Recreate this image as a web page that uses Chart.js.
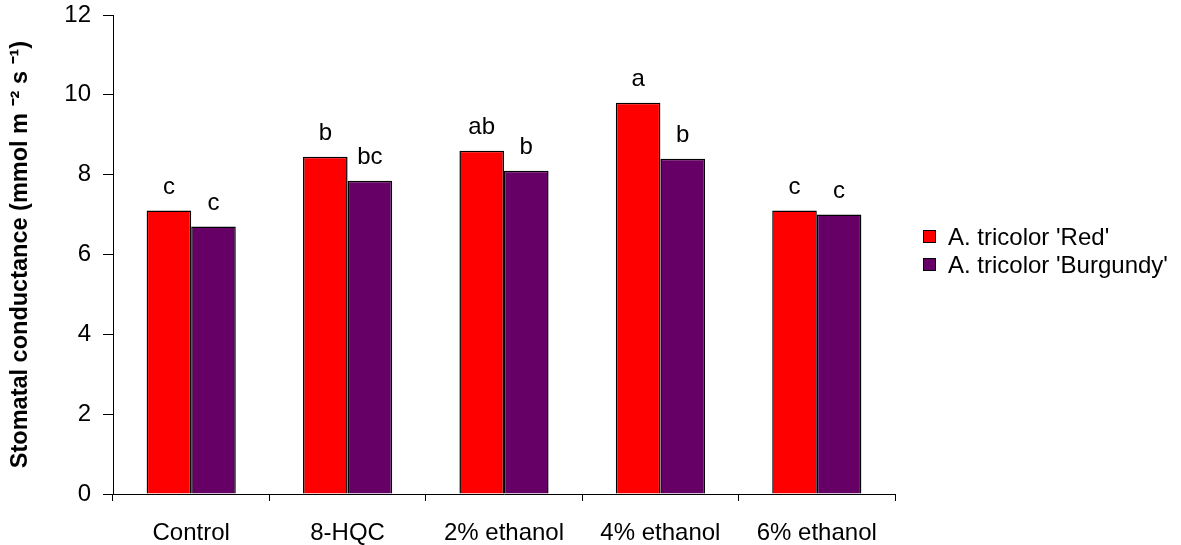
<!DOCTYPE html>
<html>
<head>
<meta charset="utf-8">
<script src="https://cdn.jsdelivr.net/npm/chart.js@4/dist/chart.umd.min.js"></script>
<style>
  html, body { margin: 0; padding: 0; background: #fff; }
  #wrap { width: 1181px; height: 545px; }
</style>
</head>
<body>
<div id="wrap"><canvas id="chart" width="1181" height="545"></canvas></div>
<script>
const categories = ['Control', '8-HQC', '2% ethanol', '4% ethanol', '6% ethanol'];
const seriesNames = ["A. tricolor 'Red'", "A. tricolor 'Burgundy'"];
const redValues = [7.1, 8.45, 8.6, 9.8, 7.1];
const burgundyValues = [6.7, 7.85, 8.1, 8.4, 7.0];
const redLetters = ['c', 'b', 'ab', 'a', 'c'];
const burgundyLetters = ['c', 'bc', 'b', 'b', 'c'];
const yTicks = [0, 2, 4, 6, 8, 10, 12];

const FONT = '"Liberation Sans", Arial, sans-serif';
const colors = { red: '#ff0000', burgundy: '#660066' };

// letters above each bar
const letterPlugin = {
    id: 'letters',
    afterDatasetsDraw(chart) {
        const ctx = chart.ctx;
        const sets = [redLetters, burgundyLetters];
        ctx.save();
        ctx.font = '24px ' + FONT;
        ctx.fillStyle = '#000';
        ctx.textAlign = 'center';
        ctx.textBaseline = 'alphabetic';
        sets.forEach((letters, di) => {
            chart.getDatasetMeta(di).data.forEach((bar, i) => {
                ctx.fillText(letters[i], bar.x, bar.y - 17);
            });
        });
        ctx.restore();
    }
};

// legend on the right, excel style
const legendPlugin = {
    id: 'sideLegend',
    afterDraw(chart) {
        const ctx = chart.ctx;
        const x = chart.chartArea.right + 28;
        const midY = (chart.chartArea.top + chart.chartArea.bottom) / 2;
        ctx.save();
        ctx.font = '24px ' + FONT;
        ctx.textBaseline = 'middle';
        chart.data.datasets.forEach((ds, i) => {
            const y = Math.round(midY - 18 + i * 28);
            ctx.fillStyle = ds.backgroundColor;
            ctx.fillRect(x, y - 7, 13, 13);
            ctx.strokeStyle = '#000';
            ctx.lineWidth = 1;
            ctx.strokeRect(x + 0.5, y - 6.5, 12, 12);
            ctx.fillStyle = '#000';
            ctx.fillText(ds.label, x + 25, y + 1);
        });
        ctx.restore();
    }
};

new Chart(document.getElementById('chart').getContext('2d'), {
    type: 'bar',
    data: {
        labels: categories,
        datasets: [
            { label: seriesNames[0], data: redValues, backgroundColor: colors.red,
              borderColor: '#000', borderWidth: 1.5, borderSkipped: 'bottom' },
            { label: seriesNames[1], data: burgundyValues, backgroundColor: colors.burgundy,
              borderColor: '#000', borderWidth: 1.5, borderSkipped: 'bottom' }
        ]
    },
    options: {
        responsive: false,
        animation: false,
        categoryPercentage: 0.57,
        barPercentage: 1.0,
        layout: { padding: { top: 15, right: 286, left: 0, bottom: 0 } },
        plugins: {
            legend: { display: false },
            tooltip: { enabled: false }
        },
        scales: {
            x: {
                grid: { display: true, drawOnChartArea: false, drawTicks: true, tickLength: 7, color: '#000', offset: true },
                border: { display: true, color: '#000', width: 1 },
                ticks: { color: '#000', font: { family: FONT, size: 24 }, padding: 18 },
                afterFit: s => { s.height = 51; s.paddingLeft = 0; s.paddingRight = 0; }
            },
            y: {
                min: 0,
                max: 12,
                afterBuildTicks: s => { s.ticks = yTicks.map(v => ({ value: v })); },
                grid: { display: true, drawOnChartArea: false, drawTicks: true, tickLength: 10, color: '#000' },
                border: { display: true, color: '#000', width: 1 },
                ticks: { color: '#000', font: { family: FONT, size: 24 }, padding: 12 },
                title: {
                    display: true,
                    text: 'Stomatal conductance (mmol m \u207B\u00B2 s \u207B\u00B9)',
                    color: '#000',
                    font: { family: FONT, size: 23.5, weight: 'bold' },
                    padding: { top: 6, bottom: 10 }
                },
                afterFit: s => { s.width = 113; s.paddingTop = 0; s.paddingBottom = 0; }
            }
        }
    },
    plugins: [letterPlugin, legendPlugin]
});
</script>
</body>
</html>
